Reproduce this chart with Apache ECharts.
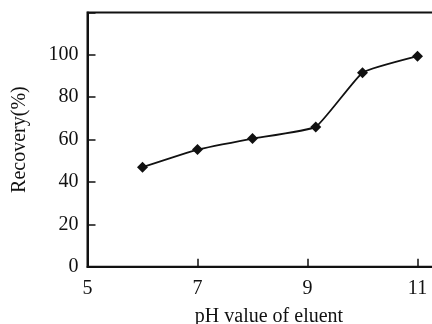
<!DOCTYPE html>
<html>
<head>
<meta charset="utf-8">
<script src="https://cdn.jsdelivr.net/npm/echarts@6/dist/echarts.min.js"></script>
<style>
  html, body { margin: 0; padding: 0; background: #fff; }
  #chart { width: 432px; height: 324px; }
</style>
</head>
<body>
<div id="chart"></div>
<script>
// pH of eluent vs recovery (%)
var phValues = [6, 7, 8, 9.15, 10, 11];
var recovery = [47, 55.3, 60.5, 66, 91.6, 99.4];
var xTicks = [5, 7, 9, 11];
var yTicks = [0, 20, 40, 60, 80, 100];

var points = phValues.map(function (x, i) { return [x, recovery[i]]; });

var font = "'Liberation Serif', 'DejaVu Serif', serif";

var chart = echarts.init(document.getElementById("chart"));
chart.setOption({
  animation: false,
  grid: {
    left: 87.5,
    top: 12.5,
    bottom: 57.3,
    right: -18.5,
    outerBoundsMode: "none",
    containLabel: false,
    show: true,
    borderColor: "#111",
    borderWidth: 2,
  },
  xAxis: {
    type: "value",
    min: 5,
    max: 11.6,
    interval: 2,
    name: "pH value of eluent",
    nameLocation: "middle",
    nameGap: 40,
    nameTextStyle: { fontFamily: font, fontSize: 20, color: "#111" },
    axisLine: { lineStyle: { color: "#111", width: 2 } },
    axisTick: { inside: true, length: 8, lineStyle: { color: "#111", width: 1.5 } },
    axisLabel: {
      fontFamily: font, fontSize: 20, color: "#111", margin: 12,
      formatter: function (v) { return xTicks.indexOf(v) >= 0 ? String(v) : ""; },
    },
    splitLine: { show: false },
  },
  yAxis: {
    type: "value",
    min: 0,
    max: 120,
    interval: 20,
    name: "Recovery(%)",
    nameLocation: "middle",
    nameGap: 58,
    nameTextStyle: { fontFamily: font, fontSize: 20, color: "#111" },
    axisLine: { lineStyle: { color: "#111", width: 2 } },
    axisTick: { inside: true, length: 8, lineStyle: { color: "#111", width: 1.5 } },
    axisLabel: {
      fontFamily: font, fontSize: 20, color: "#111", margin: 9,
      formatter: function (v) { return yTicks.indexOf(v) >= 0 ? String(v) : ""; },
    },
    splitLine: { show: false },
  },
  series: [
    {
      type: "line",
      data: points,
      smooth: 0.12,
      symbol: "diamond",
      symbolSize: 11,
      lineStyle: { color: "#111", width: 1.8 },
      itemStyle: { color: "#111" },
    },
  ],
});
</script>
</body>
</html>
